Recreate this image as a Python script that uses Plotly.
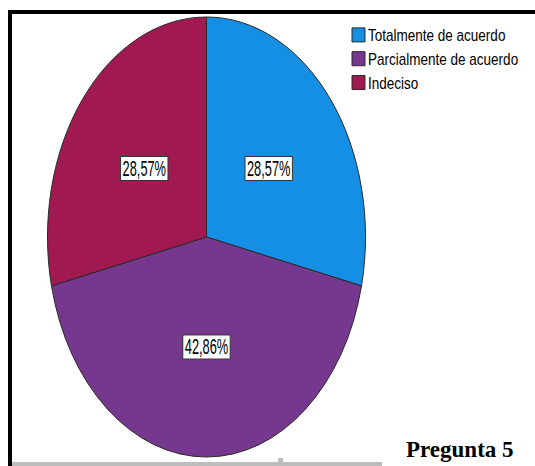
import plotly.graph_objects as go

W, H = 535, 466

categories = ["Totalmente de acuerdo", "Parcialmente de acuerdo", "Indeciso"]
percentages = [28.57, 42.86, 28.57]
colors = ["rgb(21,143,228)", "rgb(118,56,142)", "rgb(160,25,80)"]

# geometry of the (vertically stretched) pie, in pixels
CX, CY, RX, RY = 206.5, 237, 159, 220
K = RY / RX

dom_x = [(CX - RX) / W, (CX + RX) / W]
dom_y = [((H - CY) - RX) / H, ((H - CY) + RX) / H]

fig = go.Figure()
fig.add_trace(go.Pie(
    labels=categories,
    values=percentages,
    sort=False,
    direction="clockwise",
    rotation=0,
    marker=dict(colors=colors, line=dict(color="#2a2a2a", width=1)),
    texttemplate="%{value:.2f}%",
    textposition="inside",
    insidetextorientation="horizontal",
    textfont=dict(family="Liberation Sans, Arial, sans-serif", size=16, color="black"),
    hoverinfo="none",
    domain=dict(x=dom_x, y=dom_y),
))

fig.update_layout(
    width=W, height=H,
    margin=dict(l=0, r=0, t=0, b=0, autoexpand=False),
    paper_bgcolor="white",
    separators=",.",
    showlegend=True,
    legend=dict(
        x=328 / W, y=1 - 18 / H, xanchor="left", yanchor="top",
        font=dict(family="Liberation Sans, Arial, sans-serif", size=16, color="black"),
        bgcolor="rgba(0,0,0,0)", itemclick=False, itemdoubleclick=False,
    ),
    shapes=[
        dict(type="line", xref="paper", yref="paper", x0=8 / W, x1=1, y0=1 - 12 / H, y1=1 - 12 / H,
             line=dict(color="black", width=4)),
        dict(type="line", xref="paper", yref="paper", x0=10 / W, x1=10 / W, y0=0, y1=1 - 10 / H,
             line=dict(color="black", width=4)),
        dict(type="line", xref="paper", yref="paper", x0=12 / W, x1=382 / W, y0=2 / H, y1=2 / H,
             line=dict(color="#bdbdbd", width=4)),
        dict(type="rect", xref="paper", yref="paper", x0=278 / W, x1=283 / W, y0=4 / H, y1=8 / H,
             line=dict(width=0), fillcolor="#bdbdbd"),
    ],
    annotations=[
        dict(text="<b>Pregunta 5</b>", xref="paper", yref="paper", x=460 / W, y=1 - 449 / H,
             xanchor="center", yanchor="middle", showarrow=False,
             font=dict(family="Liberation Serif, Times New Roman, serif", size=23, color="black")),
    ],
)

js = """
var gd = document.getElementById('{plot_id}');
var K = __K__, F = 0.5, SX = 0.8, LSX = 0.845, LSHIFT = 10.5;
var cx = __CX__, cy = __CY__, r = __R__;
try {
  var cd0 = gd.calcdata[0][0];
  if (cd0 && cd0.cx !== undefined) { cx = cd0.cx; cy = cd0.cy; r = cd0.r; }
} catch (e) {}
var layer = gd.querySelector('g.pielayer');
if (layer) {
  layer.setAttribute('transform', 'translate(0,' + cy + ') scale(1,' + K + ') translate(0,' + (-cy) + ')');
  layer.querySelectorAll('path.surface').forEach(function (p) {
    p.setAttribute('vector-effect', 'non-scaling-stroke');
  });
  layer.querySelectorAll('g.slicetext').forEach(function (g) {
    var t = g.querySelector('text');
    if (!t) return;
    var bb = g.getBBox();
    var rc = document.createElementNS('http://www.w3.org/2000/svg', 'rect');
    rc.setAttribute('x', bb.x - 2.5);
    rc.setAttribute('y', bb.y);
    rc.setAttribute('width', bb.width + 5);
    rc.setAttribute('height', bb.height);
    rc.setAttribute('fill', 'white');
    rc.setAttribute('stroke', '#333');
    rc.setAttribute('stroke-width', '1');
    rc.setAttribute('vector-effect', 'non-scaling-stroke');
    g.insertBefore(rc, t);
    var tcx = bb.x + bb.width / 2, tcy = bb.y + bb.height / 2;
    var vx = tcx - cx, vy = tcy - cy, d = Math.sqrt(vx * vx + vy * vy) || 1;
    var nx = cx + vx / d * F * r, ny = cy + vy / d * F * r;
    g.setAttribute('transform', 'translate(' + nx + ',' + ny + ') scale(' + SX + ',1) translate(' + (-tcx) + ',' + (-tcy) + ')');
  });
}
gd.querySelectorAll('g.legend g.legendpoints').forEach(function (g) {
  g.setAttribute('transform', 'translate(' + LSHIFT + ',0)');
  g.querySelectorAll('path').forEach(function (p) {
    p.setAttribute('transform', 'translate(20,0) scale(1.08,1.17)');
    p.setAttribute('vector-effect', 'non-scaling-stroke');
  });
});
gd.querySelectorAll('g.legend text.legendtext').forEach(function (t) {
  var x0 = parseFloat(t.getAttribute('x')) || 40;
  t.setAttribute('transform', 'translate(' + x0 + ',0) scale(' + LSX + ',1) translate(' + (-x0) + ',0)');
});
""".replace("__K__", repr(K)).replace("__CY__", repr(CY)).replace("__CX__", repr(CX)).replace("__R__", repr(RX))

fig.write_html("out.html", post_script=js)
